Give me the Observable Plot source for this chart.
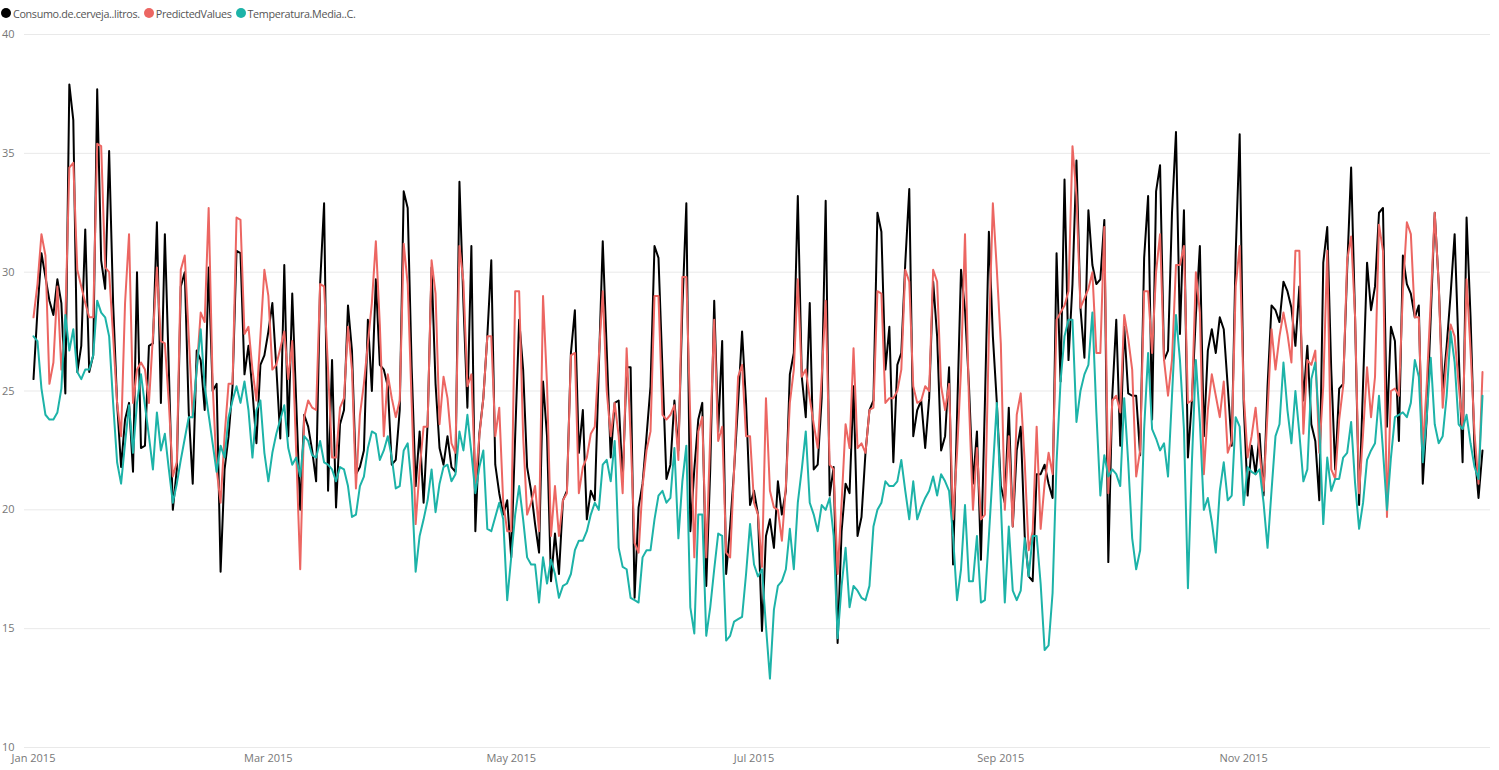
<!DOCTYPE html>
<html><head><meta charset="utf-8">
<script src="https://cdn.jsdelivr.net/npm/d3@7"></script>
<script src="https://cdn.jsdelivr.net/npm/@observablehq/plot@0.6"></script>
<style>
body{margin:0;background:#fff;font-family:"Open Sans","Noto Sans",sans-serif;}
#legend{height:26px;display:flex;align-items:center;font-size:10.8px;color:#555;padding-left:1px;letter-spacing:-0.35px}
.item{display:flex;align-items:center;margin-right:4px}
.dot{width:10px;height:10px;border-radius:50%;margin-right:2px}
</style></head><body><div id="legend"></div><div id="chart"></div>
<script>
const seriesNames = ["Consumo.de.cerveja..litros.", "PredictedValues", "Temperatura.Media..C."];
const seriesColors = ["#000000", "#EC6662", "#1DB3A8"];
const yTicks = [10, 15, 20, 25, 30, 35, 40];
const startDate = "2015-01-01";

const consumo = [
25.5,28.4,30.8,29.8,28.8,28.2,29.7,28.7,24.9,37.9,
36.4,25.8,26.9,31.8,25.8,26.5,37.7,30.5,29.3,35.1,
28.7,24.5,21.8,23.8,24.5,21.6,30.0,22.6,22.7,26.9,
27.0,32.1,24.5,31.6,25.9,20.0,21.7,29.4,30.0,24.1,
21.1,26.7,26.3,24.2,30.2,25.0,25.3,17.4,21.7,23.1,
25.2,30.9,30.8,25.7,26.9,25.0,22.8,26.1,26.5,27.5,
28.7,26.0,23.0,30.3,23.1,29.1,24.5,20.0,24.0,23.5,
22.5,21.2,29.5,32.9,20.8,26.3,20.1,23.6,24.2,28.6,
26.7,21.5,21.8,22.5,28.0,25.0,29.7,26.1,25.9,25.2,
21.9,22.1,24.2,33.4,32.7,26.0,21.0,23.3,20.3,23.6,
30.2,25.3,22.6,21.9,23.1,21.8,21.6,33.8,28.7,24.3,
31.1,19.1,23.2,24.7,27.3,30.5,21.9,20.7,19.8,20.4,
18.0,23.1,28.0,25.9,21.8,20.8,19.4,18.2,25.4,23.1,
17.0,19.0,17.3,20.4,20.8,26.6,28.4,22.4,24.2,19.6,
20.8,20.4,25.9,31.3,26.7,22.2,24.5,24.6,21.2,26.0,
26.0,16.3,20.1,21.1,23.1,25.2,31.1,30.6,25.9,21.3,
21.9,24.6,22.5,28.5,32.9,19.1,21.7,23.8,24.5,16.8,
21.7,28.8,23.3,27.1,17.3,19.3,21.7,24.5,27.5,24.5,
20.2,20.8,19.8,14.9,18.9,19.6,18.4,21.2,19.8,20.8,
25.7,26.6,33.2,25.6,23.9,28.7,21.7,21.9,24.7,33.0,
20.6,21.8,14.4,19.1,21.1,20.7,25.2,18.9,19.7,22.4,
24.2,24.6,32.5,31.7,25.9,27.7,22.0,26.1,26.6,30.4,
33.5,23.1,24.2,24.6,22.6,24.7,29.6,27.3,22.5,23.1,
26.0,17.7,23.9,30.1,28.4,25.2,21.1,23.3,17.9,24.5,
31.7,27.3,24.5,21.0,20.3,24.3,19.3,22.5,23.5,18.9,
17.2,17.0,21.5,21.5,21.9,21.1,20.5,30.8,25.4,33.9,
26.3,29.5,34.7,28.5,26.4,32.6,30.3,29.5,29.7,32.2,
17.8,24.8,28.0,22.7,27.7,24.9,24.8,24.8,22.3,30.6,
33.2,23.8,33.4,34.5,26.3,26.7,32.5,35.9,27.4,32.6,
22.2,24.6,28.2,31.1,23.1,26.7,27.6,26.6,28.1,27.6,
25.2,22.7,30.8,35.8,24.5,20.6,22.7,21.5,23.2,20.6,
25.2,28.6,28.4,27.9,29.6,29.2,28.5,26.9,29.4,24.6,
26.9,23.6,22.9,20.4,30.4,31.9,25.9,21.7,25.1,25.3,
30.1,34.4,28.0,20.2,25.3,30.4,28.4,29.4,32.5,32.7,
23.5,27.7,27.1,22.9,30.7,29.5,29.1,28.1,28.6,21.1,
23.9,28.1,32.5,29.5,25.0,26.9,29.1,31.6,26.7,22.0,
32.3,28.1,22.5,20.5,22.5
];

const predicted = [
28.1,29.5,31.6,30.7,25.3,26.2,29.4,25.9,28.0,34.4,
34.6,30.1,29.4,28.7,28.1,28.1,35.4,35.3,30.2,30.0,
27.3,24.5,23.1,28.7,31.6,24.5,25.9,26.2,25.9,24.5,
27.3,30.2,27.1,27.0,24.5,21.4,22.0,30.1,30.7,27.3,
23.9,25.9,28.3,27.9,32.7,25.3,21.7,20.3,23.1,25.3,
25.3,32.3,32.2,27.4,27.7,25.9,24.6,27.3,30.1,29.0,
25.9,26.1,26.8,27.5,25.5,27.1,22.4,17.5,23.9,24.6,
24.3,24.2,29.5,29.4,25.9,22.2,22.2,24.3,24.7,27.7,
25.9,20.9,24.0,25.3,27.0,28.7,31.3,27.8,23.1,25.7,
24.7,23.9,24.6,31.2,29.5,24.5,19.4,21.7,23.5,23.5,
30.5,29.1,23.6,25.6,24.7,22.8,22.4,31.1,29.6,25.2,
25.7,21.1,23.1,24.7,27.3,27.3,23.1,24.3,20.3,19.1,
19.1,29.2,29.2,23.1,19.8,20.3,21.0,19.1,29.0,25.3,
18.9,21.0,18.9,20.4,20.7,26.5,26.6,20.7,21.8,22.2,
23.2,23.5,26.4,29.2,25.0,23.1,24.5,23.1,20.7,26.8,
23.1,18.6,18.2,21.0,22.5,23.3,29.0,29.0,24.0,23.8,
24.0,24.4,22.1,29.8,29.8,23.8,18.0,23.3,23.9,18.0,
23.1,28.0,22.9,23.5,18.2,18.0,21.7,25.6,26.1,23.1,
23.1,20.3,19.8,17.6,24.7,20.8,20.1,20.0,18.7,21.0,
24.5,25.9,29.7,25.6,25.9,24.7,23.6,22.6,25.6,28.8,
21.9,21.7,17.3,20.3,23.6,22.6,26.8,22.6,22.8,22.4,
24.2,24.3,29.2,29.1,24.5,24.7,24.7,25.0,25.9,30.1,
29.6,25.2,24.5,24.6,25.2,25.0,30.1,29.6,25.2,24.2,
25.3,19.6,22.4,25.9,31.6,24.5,20.0,22.6,19.6,19.8,
27.3,32.9,30.1,27.0,20.0,23.1,19.3,24.0,24.9,22.0,
18.3,19.1,23.5,19.2,21.1,22.4,21.5,28.0,28.3,28.6,
29.2,35.3,33.2,28.5,28.9,29.3,30.0,26.6,26.6,31.9,
20.7,24.6,24.8,24.1,28.2,27.2,25.9,21.4,22.5,29.2,
29.2,26.6,30.0,31.6,26.3,24.8,26.3,30.3,30.3,31.1,
24.5,24.6,30.0,28.3,21.5,24.2,25.7,24.8,23.9,25.4,
22.4,22.9,29.4,31.1,24.9,22.2,23.1,24.3,22.4,20.8,
24.1,27.6,25.9,27.3,28.3,27.4,26.2,30.9,30.9,23.2,
26.3,26.1,26.7,22.4,25.2,30.9,21.7,21.3,23.8,25.2,
30.5,31.5,28.1,20.7,23.2,26.0,23.9,25.6,32.0,30.9,
19.7,25.0,25.1,24.8,29.2,32.1,31.6,28.1,28.1,22.5,
25.3,28.8,32.5,29.5,24.3,26.4,27.8,27.3,25.3,23.4,
29.7,26.7,23.2,21.1,25.8
];

const temperatura = [
27.3,27.1,25.1,24.0,23.8,23.8,24.1,25.1,28.2,26.7,
27.6,25.8,25.5,25.9,25.9,26.5,28.8,28.3,28.1,27.3,
24.5,22.0,21.1,22.8,24.4,22.4,24.5,25.7,24.4,23.1,
21.7,24.1,22.5,23.2,21.7,20.3,21.1,22.1,23.0,23.9,
23.9,25.9,27.6,25.2,24.0,22.8,21.6,22.7,22.2,23.9,
24.6,25.2,24.5,25.4,24.2,22.2,24.2,24.6,22.4,21.2,
22.4,23.2,23.8,24.4,22.6,21.9,22.2,21.4,23.1,22.9,
22.3,22.2,22.9,22.0,21.9,21.7,21.2,21.8,21.7,21.0,
19.7,19.8,21.0,21.4,22.6,23.3,23.2,22.1,22.5,23.1,
22.2,20.9,21.0,22.5,22.8,21.0,17.4,18.9,19.6,20.4,
21.7,19.9,21.1,21.8,21.9,21.2,21.5,23.3,22.5,24.0,
22.4,20.7,21.8,22.5,19.2,19.1,19.7,20.3,19.6,16.2,
18.0,19.8,21.0,19.6,18.0,17.7,17.7,16.1,18.0,16.9,
17.9,17.3,16.3,16.8,16.9,17.3,18.3,18.7,18.7,19.1,
19.8,20.3,20.0,21.9,22.1,21.2,22.9,18.4,17.6,17.5,
16.3,16.2,16.1,18.0,18.3,18.3,19.6,20.6,20.8,20.3,
20.5,22.6,18.8,21.2,22.7,15.9,14.8,19.8,19.8,14.7,
15.9,17.5,19.0,18.9,14.5,14.7,15.3,15.4,15.5,17.3,
19.4,17.7,17.2,17.5,15.1,12.9,15.8,16.8,17.0,17.5,
19.2,17.5,20.3,21.7,23.3,20.3,19.8,19.1,20.2,20.0,
20.5,18.9,14.6,16.8,18.4,15.9,16.8,16.6,16.3,16.2,
16.8,19.3,20.0,20.3,21.2,21.0,21.0,21.2,22.1,20.8,
19.6,21.2,19.6,20.1,20.5,20.8,21.4,20.6,21.5,21.2,
20.8,18.9,16.2,17.5,20.2,17.0,17.0,18.9,16.1,16.2,
18.9,21.7,24.5,20.3,16.1,19.3,16.6,16.2,16.6,18.8,
17.2,18.9,18.9,16.9,14.1,14.3,16.5,22.0,25.4,27.3,
28.0,28.0,23.7,25.0,25.7,26.1,28.3,24.1,20.6,22.3,
21.4,21.7,21.5,21.0,24.7,22.0,18.8,17.5,18.3,23.4,
26.6,23.4,23.0,22.5,22.8,21.4,24.8,28.2,26.3,23.4,
16.7,22.0,26.3,23.7,20.0,20.5,19.5,18.2,20.8,22.0,
20.4,20.6,23.9,23.5,20.2,21.8,21.6,21.5,21.7,20.3,
18.4,20.8,23.1,23.6,26.2,24.2,22.8,25.0,23.2,21.2,
21.7,25.5,26.2,23.5,19.4,22.2,20.8,21.3,21.3,22.2,
22.4,23.7,21.1,19.2,20.3,22.1,22.5,22.8,24.8,22.5,
20.0,22.2,23.9,24.0,24.1,23.9,24.5,26.3,25.6,22.0,
23.9,26.4,23.6,22.8,23.1,24.8,27.5,26.2,23.6,23.4,
24.0,22.8,21.8,21.3,24.8
];

const series = [consumo, predicted, temperatura];
const start = new Date(startDate + "T00:00:00Z");
const dates = d3.utcDay.range(start, d3.utcDay.offset(start, consumo.length));
const rows = [];
series.forEach((arr, k) => arr.forEach((v, i) => rows.push({date: dates[i], value: v, series: seriesNames[k]})));

// legend
const legend = document.getElementById("legend");
seriesNames.forEach((n, i) => {
  const it = document.createElement("div"); it.className = "item";
  const d = document.createElement("span"); d.className = "dot"; d.style.background = seriesColors[i];
  const t = document.createElement("span"); t.textContent = n;
  it.appendChild(d); it.appendChild(t); legend.appendChild(it);
});

const chart = Plot.plot({
  width: 1499, height: 744,
  marginLeft: 24, marginRight: 9, marginTop: 8, marginBottom: 23,
  style: {fontFamily: '"Open Sans","Noto Sans",sans-serif', fontSize: "11px", color: "#777", background: "#fff"},
  x: {type: "utc", domain: [dates[0], dates[dates.length - 1]], range: [33, 1482]},
  y: {domain: [10, 40]},
  color: {domain: seriesNames, range: seriesColors},
  marks: [
    Plot.gridY(yTicks, {stroke: "#e9e9e9", strokeOpacity: 1}),
    Plot.axisY(yTicks, {tickSize: 0, tickPadding: 10, label: null}),
    Plot.axisX({ticks: d3.utcMonth.every(2), tickFormat: d3.utcFormat("%b %Y"), tickSize: 0, tickPadding: 7, label: null}),
    Plot.line(rows, {x: "date", y: "value", stroke: "series", z: "series", strokeWidth: 2})
  ]
});
document.getElementById("chart").appendChild(chart);
</script></body></html>
